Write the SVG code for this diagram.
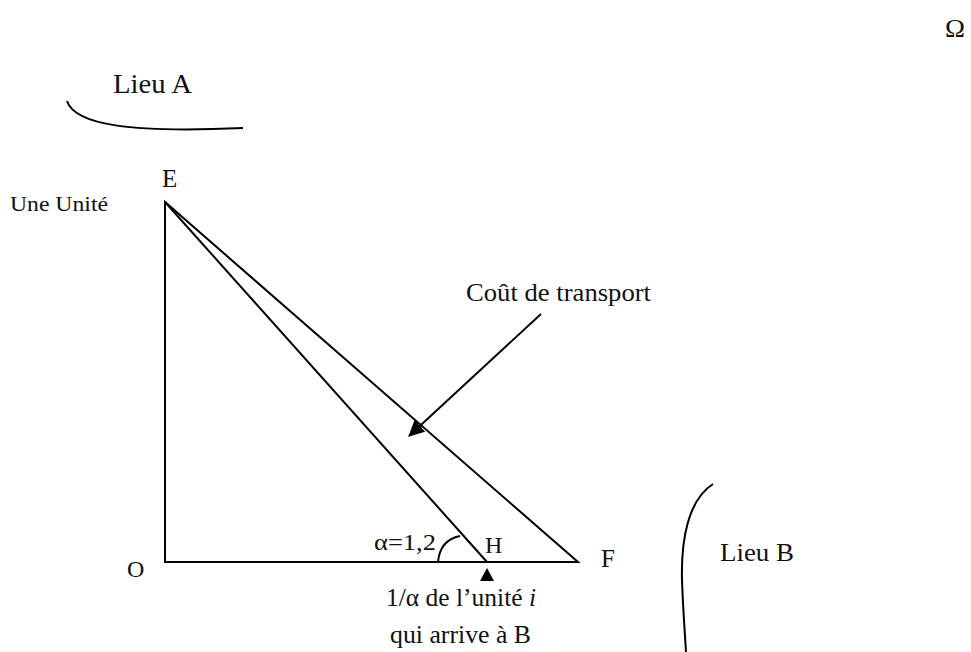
<svg xmlns="http://www.w3.org/2000/svg" width="971" height="652" viewBox="0 0 971 652">
<style>
text{font-family:"Liberation Serif",serif;fill:#111}
.l{fill:none;stroke:#000;stroke-width:2}
</style>
<defs>
<marker id="ah" markerWidth="16" markerHeight="16" refX="15" refY="8" orient="auto" markerUnits="userSpaceOnUse" viewBox="0 0 16 16">
<path d="M0,0 L16,8 L0,16 z" fill="#000"/>
</marker>
</defs>
<rect width="971" height="652" fill="#fff"/>
<g id="omega"><text x="945" y="37" font-size="26" textLength="20" lengthAdjust="spacingAndGlyphs">Ω</text></g>
<g id="lieuA">
<path class="l" d="M67,101 C75,125 130,133 243,128"/>
<text x="113" y="93" font-size="27" textLength="79" lengthAdjust="spacingAndGlyphs">Lieu A</text>
</g>
<g id="lieuB">
<path class="l" d="M713,484 C688,500 681,540 682,580 C683,610 685,635 686,652"/>
<text x="720" y="561" font-size="25" textLength="74" lengthAdjust="spacingAndGlyphs">Lieu B</text>
</g>
<g id="E"><text x="162" y="187" font-size="25">E</text><text x="10" y="211" font-size="20" textLength="98" lengthAdjust="spacingAndGlyphs">Une Unité</text></g>
<g id="O"><text x="127" y="577" font-size="24">O</text></g>
<g id="F"><text x="601" y="567" font-size="25">F</text></g>
<g id="H"><text x="485" y="553" font-size="24">H</text></g>
<g id="cout"><text x="466" y="301" font-size="25" textLength="185" lengthAdjust="spacingAndGlyphs">Coût de transport</text></g>
<g id="alpha"><text x="374" y="550" font-size="24" textLength="62" lengthAdjust="spacingAndGlyphs">α=1,2</text></g>
<g id="unite">
<text x="386" y="606" font-size="25" textLength="150" lengthAdjust="spacingAndGlyphs">1/α de l’unité <tspan font-style="italic">i</tspan></text>
<text x="390" y="643" font-size="25" textLength="141" lengthAdjust="spacingAndGlyphs">qui arrive à B</text>
</g>
<g id="connectors">
<path class="l" d="M165,562 L165,202 L578,562 Z"/>
<path class="l" d="M165,202 L487,562"/>
<path class="l" d="M438,562 Q440,540 460,536"/>
<path d="M487,568 L494,581 L480,581 Z" fill="#000"/>
<path class="l" d="M541,314 L409,436" marker-end="url(#ah)"/>
</g>
</svg>
